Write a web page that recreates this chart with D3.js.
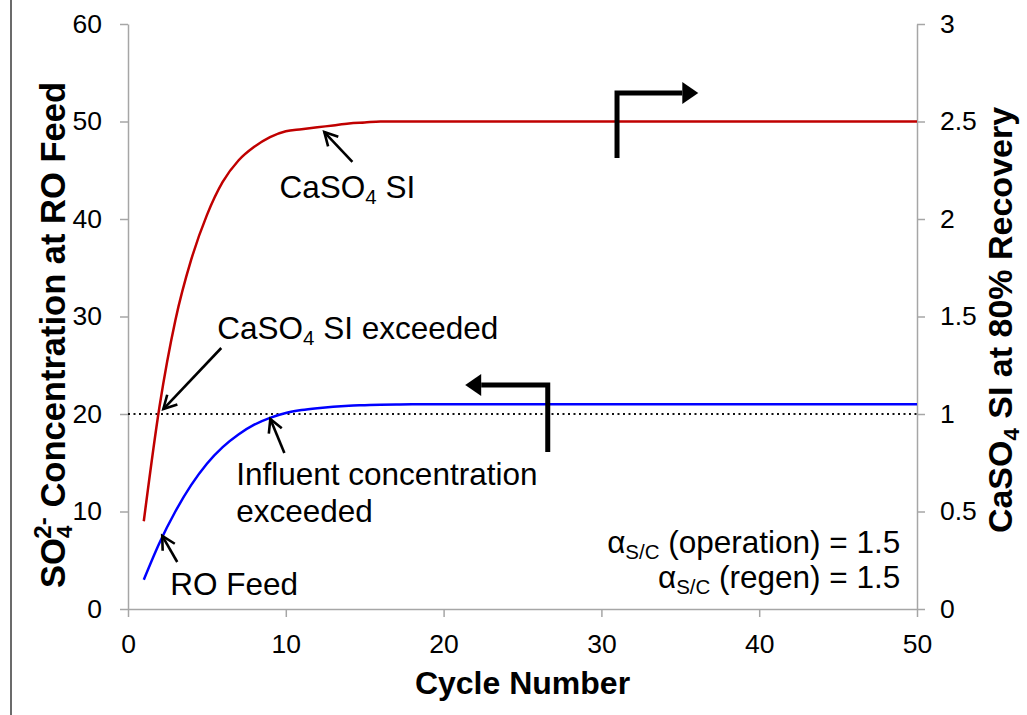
<!DOCTYPE html>
<html>
<head>
<meta charset="utf-8">
<script src="https://cdn.jsdelivr.net/npm/d3@7/dist/d3.min.js"></script>
<style>
    body { margin: 0; background: #fff; }
    text { font-family: "Liberation Sans", Arial, sans-serif; fill: #000; }
</style>
</head>
<body>
<div id="chart"></div>
<script>
// cycle numbers on the x axis
const cycleNumbers = [1, 2, 3, 4, 5, 6, 7, 8, 9, 10, 11, 12, 13, 14, 15, 16, 17, 18, 19, 20,
    21, 22, 23, 24, 25, 26, 27, 28, 29, 30, 31, 32, 33, 34, 35, 36, 37, 38, 39, 40,
    41, 42, 43, 44, 45, 46, 47, 48, 49, 50];

// SO4 2- concentration at RO feed (left axis)
const roFeedSO4 = [3.0, 6.8, 10.0, 12.7, 14.9, 16.6, 17.9, 18.9, 19.6, 20.1,
    20.4, 20.6, 20.75, 20.85, 20.9, 20.95, 20.98, 21.0, 21.0, 21.0,
    21.0, 21.0, 21.0, 21.0, 21.0, 21.0, 21.0, 21.0, 21.0, 21.0,
    21.0, 21.0, 21.0, 21.0, 21.0, 21.0, 21.0, 21.0, 21.0, 21.0,
    21.0, 21.0, 21.0, 21.0, 21.0, 21.0, 21.0, 21.0, 21.0, 21.0];

// CaSO4 saturation index at 80% recovery (right axis)
const caso4SI = [0.45, 1.04, 1.48, 1.79, 2.02, 2.19, 2.30, 2.37, 2.42, 2.45,
    2.46, 2.47, 2.48, 2.49, 2.495, 2.5, 2.5, 2.5, 2.5, 2.5,
    2.5, 2.5, 2.5, 2.5, 2.5, 2.5, 2.5, 2.5, 2.5, 2.5,
    2.5, 2.5, 2.5, 2.5, 2.5, 2.5, 2.5, 2.5, 2.5, 2.5,
    2.5, 2.5, 2.5, 2.5, 2.5, 2.5, 2.5, 2.5, 2.5, 2.5];

const influentLevel = 20;

const xTicks = [0, 10, 20, 30, 40, 50];
const leftTicks = [0, 10, 20, 30, 40, 50, 60];
const rightTicks = [0, 0.5, 1, 1.5, 2, 2.5, 3];
const rightTickLabels = ["0", "0.5", "1", "1.5", "2", "2.5", "3"];

const W = 1027, H = 715;
const margin = {top: 24, right: 110, bottom: 106, left: 128};
const width = W - margin.left - margin.right;
const height = H - margin.top - margin.bottom;

const svg = d3.select("#chart").append("svg")
    .attr("width", W)
    .attr("height", H);

svg.append("rect").attr("width", W).attr("height", H).attr("fill", "#fff");

// page border line on the left
svg.append("line")
    .attr("x1", 11).attr("x2", 11)
    .attr("y1", 0).attr("y2", H)
    .attr("stroke", "#3a3a3a")
    .attr("stroke-width", 1.5);

const g = svg.append("g")
    .attr("transform", "translate(" + margin.left + "," + margin.top + ")");

const x = d3.scaleLinear().domain([0, 50]).range([0, width]);
const yL = d3.scaleLinear().domain([0, 60]).range([height, 0]);
const yR = d3.scaleLinear().domain([0, 3]).range([height, 0]);

const axisColor = "#a6a6a6";

function styleAxis(sel) {
    sel.select(".domain").attr("stroke", axisColor).attr("stroke-width", 1.5);
    sel.selectAll(".tick line").attr("stroke", axisColor).attr("stroke-width", 1.5);
    sel.selectAll(".tick text")
        .attr("font-size", 26.5)
        .attr("font-family", "'Liberation Sans', Arial, sans-serif")
        .attr("fill", "#000");
}

g.append("g")
    .attr("transform", "translate(0," + height + ")")
    .call(d3.axisBottom(x).tickValues(xTicks).tickSize(8).tickSizeOuter(0).tickPadding(17))
    .call(styleAxis);

g.append("g")
    .call(d3.axisLeft(yL).tickValues(leftTicks).tickSize(8).tickSizeOuter(0).tickPadding(18))
    .call(styleAxis);

g.append("g")
    .attr("transform", "translate(" + width + ",0)")
    .call(d3.axisRight(yR).tickValues(rightTicks).tickSize(8).tickSizeOuter(0).tickPadding(15)
        .tickFormat((d, i) => rightTickLabels[i]))
    .call(styleAxis);

// influent concentration threshold
g.append("line")
    .attr("x1", x(0)).attr("x2", x(50))
    .attr("y1", yL(influentLevel)).attr("y2", yL(influentLevel))
    .attr("stroke", "#111")
    .attr("stroke-width", 2)
    .attr("stroke-dasharray", "2,3.5");

// series lines
const feedLine = d3.line()
    .x((d, i) => x(cycleNumbers[i]))
    .y(d => yL(d))
    .curve(d3.curveMonotoneX);

const siLine = d3.line()
    .x((d, i) => x(cycleNumbers[i]))
    .y(d => yR(d))
    .curve(d3.curveMonotoneX);

g.append("path")
    .datum(caso4SI)
    .attr("d", siLine)
    .attr("fill", "none")
    .attr("stroke", "#c00000")
    .attr("stroke-width", 2.5);

g.append("path")
    .datum(roFeedSO4)
    .attr("d", feedLine)
    .attr("fill", "none")
    .attr("stroke", "#0000ff")
    .attr("stroke-width", 2.5);

// rich text helper: parts = [{t, sub, sup, dx}]
function richText(parent, px, py, parts, size, opts) {
    opts = opts || {};
    let t = parent.append("text")
        .attr("x", px).attr("y", py)
        .attr("font-size", size)
        .attr("font-weight", opts.bold ? "bold" : "normal")
        .attr("text-anchor", opts.anchor || "start");
    if (opts.transform) t.attr("transform", opts.transform);
    parts.forEach(p => {
        let s = t.append("tspan").text(p.t);
        if (p.sub) s.attr("font-size", size * 0.65).attr("baseline-shift", -size * 0.2);
        if (p.sup) s.attr("font-size", size * 0.7).attr("baseline-shift", size * 0.4);
        if (p.dx) s.attr("dx", p.dx);
    });
    return t;
}

const annFont = 31.5;

// annotations, placed in data units
richText(g, x(9.6), yL(42.15), [{t: "CaSO"}, {t: "4", sub: true}, {t: " SI"}], annFont);
richText(g, x(5.66), yL(27.69), [{t: "CaSO"}, {t: "4", sub: true}, {t: " SI exceeded"}], annFont);
richText(g, x(6.86), yL(12.72), [{t: "Influent concentration"}], annFont);
richText(g, x(6.86), yL(8.92), [{t: "exceeded"}], annFont);
richText(g, x(2.68), yL(1.44), [{t: "RO Feed"}], annFont);
richText(g, x(48.94), yL(5.74), [{t: "\u03b1"}, {t: "S/C", sub: true}, {t: " (operation) = 1.5"}], annFont, {anchor: "end"});
richText(g, x(48.94), yL(2.15), [{t: "\u03b1"}, {t: "S/C", sub: true}, {t: " (regen) = 1.5"}], annFont, {anchor: "end"});

// thin pointer arrows
svg.append("defs").append("marker")
    .attr("id", "vhead")
    .attr("viewBox", "-15 -9 18 18")
    .attr("markerUnits", "userSpaceOnUse")
    .attr("markerWidth", 18).attr("markerHeight", 18)
    .attr("refX", 0).attr("refY", 0)
    .attr("orient", "auto")
    .append("path")
    .attr("d", "M-13,-7L0,0L-13,7")
    .attr("fill", "none")
    .attr("stroke", "#000")
    .attr("stroke-width", 2.6);

const pointers = [
    [14.22, 45.85, 12.44, 48.92],
    [5.91, 26.77, 2.24, 20.51],
    [9.91, 16.0, 9.02, 19.49],
    [3.12, 4.82, 2.17, 7.49]
];
pointers.forEach(p => {
    g.append("line")
        .attr("x1", x(p[0])).attr("y1", yL(p[1]))
        .attr("x2", x(p[2])).attr("y2", yL(p[3]))
        .attr("stroke", "#000")
        .attr("stroke-width", 2.6)
        .attr("marker-end", "url(#vhead)");
});

// bent axis-indicator arrows: [bottom x, bottom y, corner y, tip x]
function bentArrow(bx, by, cy, tx) {
    const X = x(bx), Y0 = yL(by), Y1 = yL(cy), T = x(tx);
    const dir = T > X ? 1 : -1;
    const headLen = 16, headHalf = 11;
    const base = T - dir * headLen;
    g.append("path")
        .attr("d", "M" + X + "," + Y0 + "L" + X + "," + Y1 + "L" + base + "," + Y1)
        .attr("fill", "none")
        .attr("stroke", "#000")
        .attr("stroke-width", 5)
        .attr("stroke-linejoin", "miter");
    g.append("path")
        .attr("d", "M" + T + "," + Y1 + "L" + base + "," + (Y1 - headHalf) + "L" + base + "," + (Y1 + headHalf) + "Z")
        .attr("fill", "#000");
}
bentArrow(30.99, 46.26, 52.92, 36.14);
bentArrow(26.6, 16.1, 22.97, 21.37);

// axis titles
richText(svg, margin.left + width / 2, 694, [{t: "Cycle Number"}], 32, {bold: true, anchor: "middle"});

richText(svg, 0, 0,
    [{t: "SO"}, {t: "4", sub: true}, {t: "2-", sup: true, dx: -13}, {t: " Concentration at RO Feed"}],
    34.5, {bold: true, anchor: "middle", transform: "translate(65,335) rotate(-90)"});

richText(svg, 0, 0,
    [{t: "CaSO"}, {t: "4", sub: true}, {t: " SI at 80% Recovery"}],
    34, {bold: true, anchor: "middle", transform: "translate(1012,320) rotate(-90)"});
</script>
</body>
</html>
